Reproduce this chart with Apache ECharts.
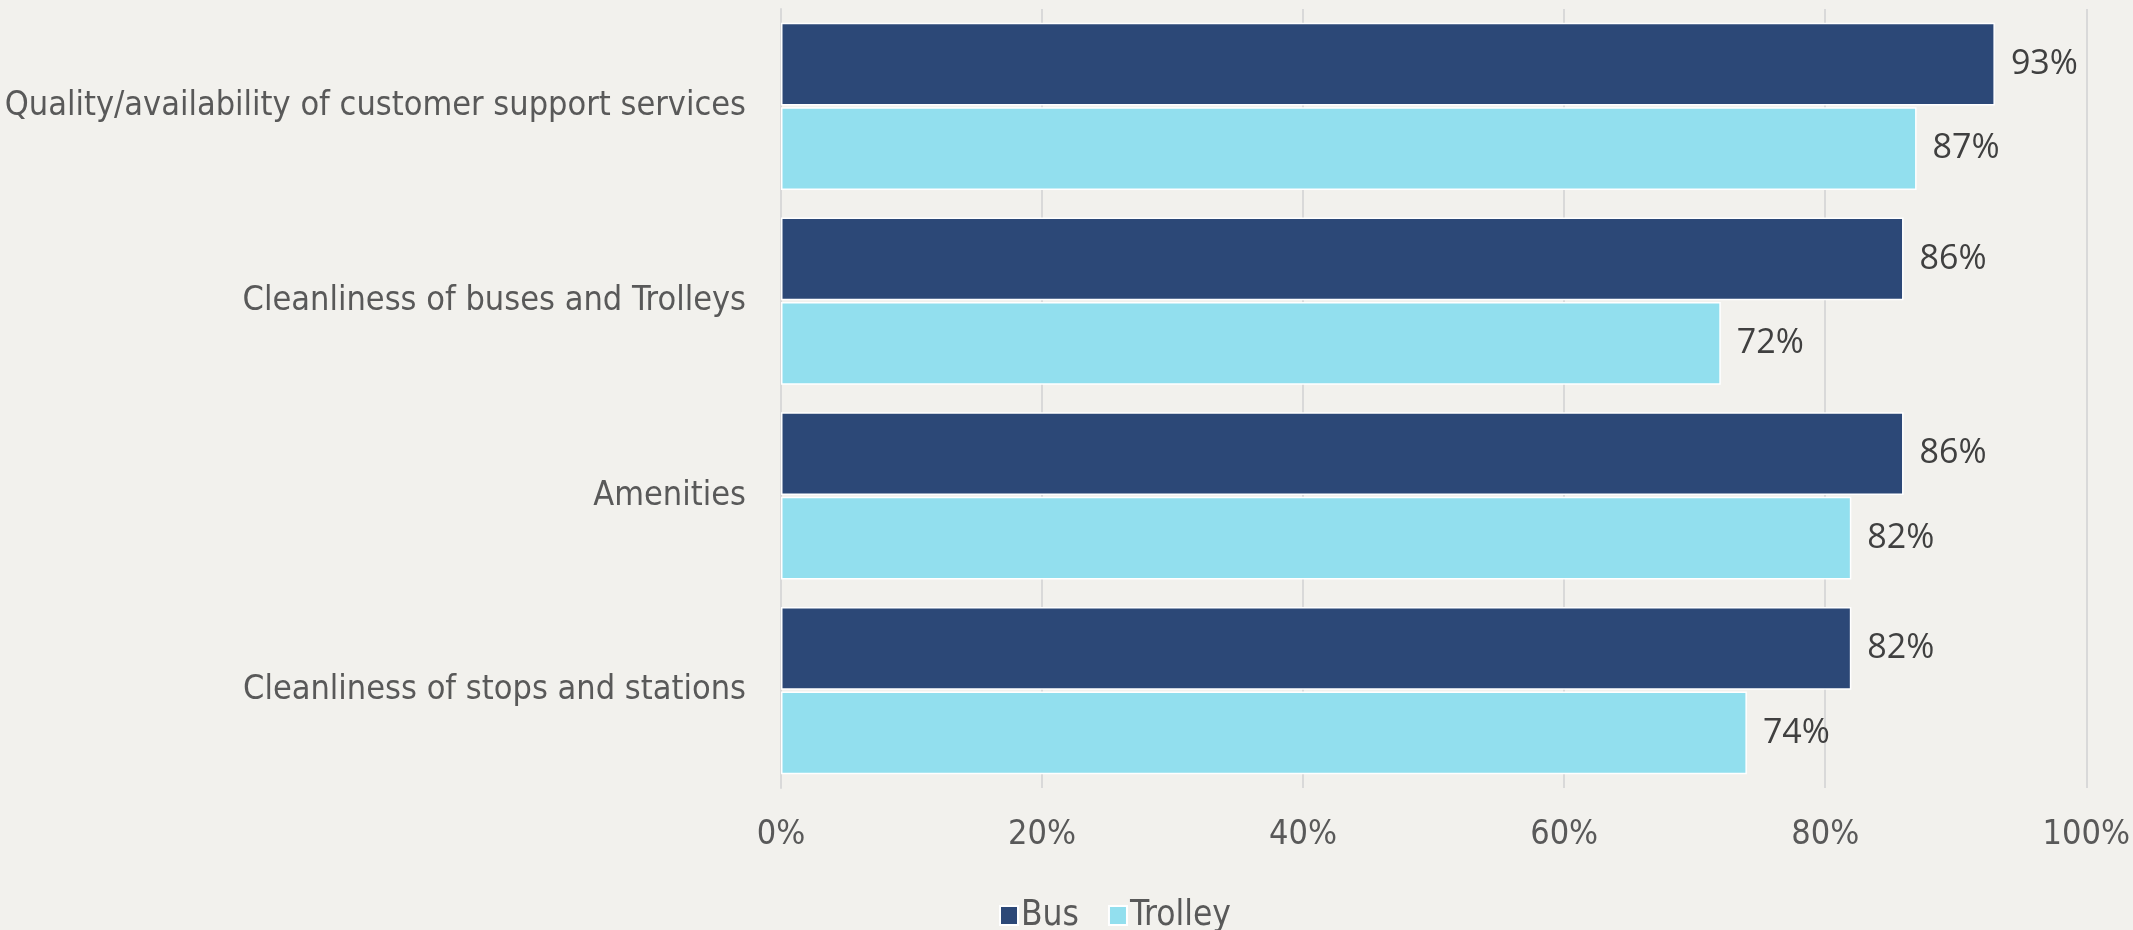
<!DOCTYPE html>
<html>
<head>
<meta charset="utf-8">
<script src="https://cdn.jsdelivr.net/npm/echarts@6/dist/echarts.min.js"></script>
<style>
  html, body { margin: 0; padding: 0; background: #f2f1ed; }
  #chart { width: 2133px; height: 930px; }
</style>
</head>
<body>
<div id="chart"></div>
<script>
const categories = [
    'Quality/availability of customer support services',
    'Cleanliness of buses and Trolleys',
    'Amenities',
    'Cleanliness of stops and stations'
];
const busValues = [93, 86, 86, 82];
const trolleyValues = [87, 72, 82, 74];
const xTicks = [0, 20, 40, 60, 80, 100];

const narrowFont = '"Liberation Sans Narrow", "DejaVu Sans Condensed", sans-serif';

const mychart = echarts.init(document.getElementById('chart'));
const option = {
    backgroundColor: '#f2f1ed',
    animation: false,
    grid: {
        left: 781,
        right: 44,
        top: 9,
        bottom: 142
    },
    legend: {
        data: ['Bus', 'Trolley'],
        left: 994,
        top: 893,
        itemWidth: 18,
        itemHeight: 19,
        itemGap: 29,
        icon: 'rect',
        textStyle: {
            color: '#595959',
            fontSize: 35,
            fontFamily: narrowFont,
            padding: [0, 0, 0, -2]
        }
    },
    xAxis: {
        type: 'value',
        min: xTicks[0],
        max: xTicks[xTicks.length - 1],
        interval: 20,
        axisLine: { show: false },
        axisTick: { show: false },
        splitLine: {
            show: true,
            lineStyle: { color: '#d9d9d9', width: 2 }
        },
        axisLabel: {
            margin: 30,
            color: '#595959',
            fontSize: 34,
            fontFamily: narrowFont,
            formatter: '{value}%'
        }
    },
    yAxis: {
        type: 'category',
        data: categories,
        inverse: true,
        axisLine: {
            show: true,
            lineStyle: { color: '#d9d9d9', width: 2 }
        },
        axisTick: { show: false },
        axisLabel: {
            margin: 35,
            color: '#595959',
            fontSize: 34,
            fontFamily: narrowFont
        }
    },
    series: [
        {
            name: 'Bus',
            type: 'bar',
            data: busValues,
            barGap: '2%',
            barCategoryGap: '14%',
            itemStyle: {
                color: '#2c4877',
                borderColor: '#ffffff',
                borderWidth: 1.5
            },
            label: {
                show: true,
                position: 'right',
                distance: 16,
                color: '#404040',
                fontSize: 34,
                fontFamily: '"Open Sans", sans-serif',
                formatter: '{c}%'
            }
        },
        {
            name: 'Trolley',
            type: 'bar',
            data: trolleyValues,
            itemStyle: {
                color: '#92dfee',
                borderColor: '#ffffff',
                borderWidth: 1.5
            },
            label: {
                show: true,
                position: 'right',
                distance: 16,
                color: '#404040',
                fontSize: 34,
                fontFamily: '"Open Sans", sans-serif',
                formatter: '{c}%'
            }
        }
    ]
};
mychart.setOption(option);
window.addEventListener('resize', () => {
    mychart.resize();
});
</script>
</body>
</html>
